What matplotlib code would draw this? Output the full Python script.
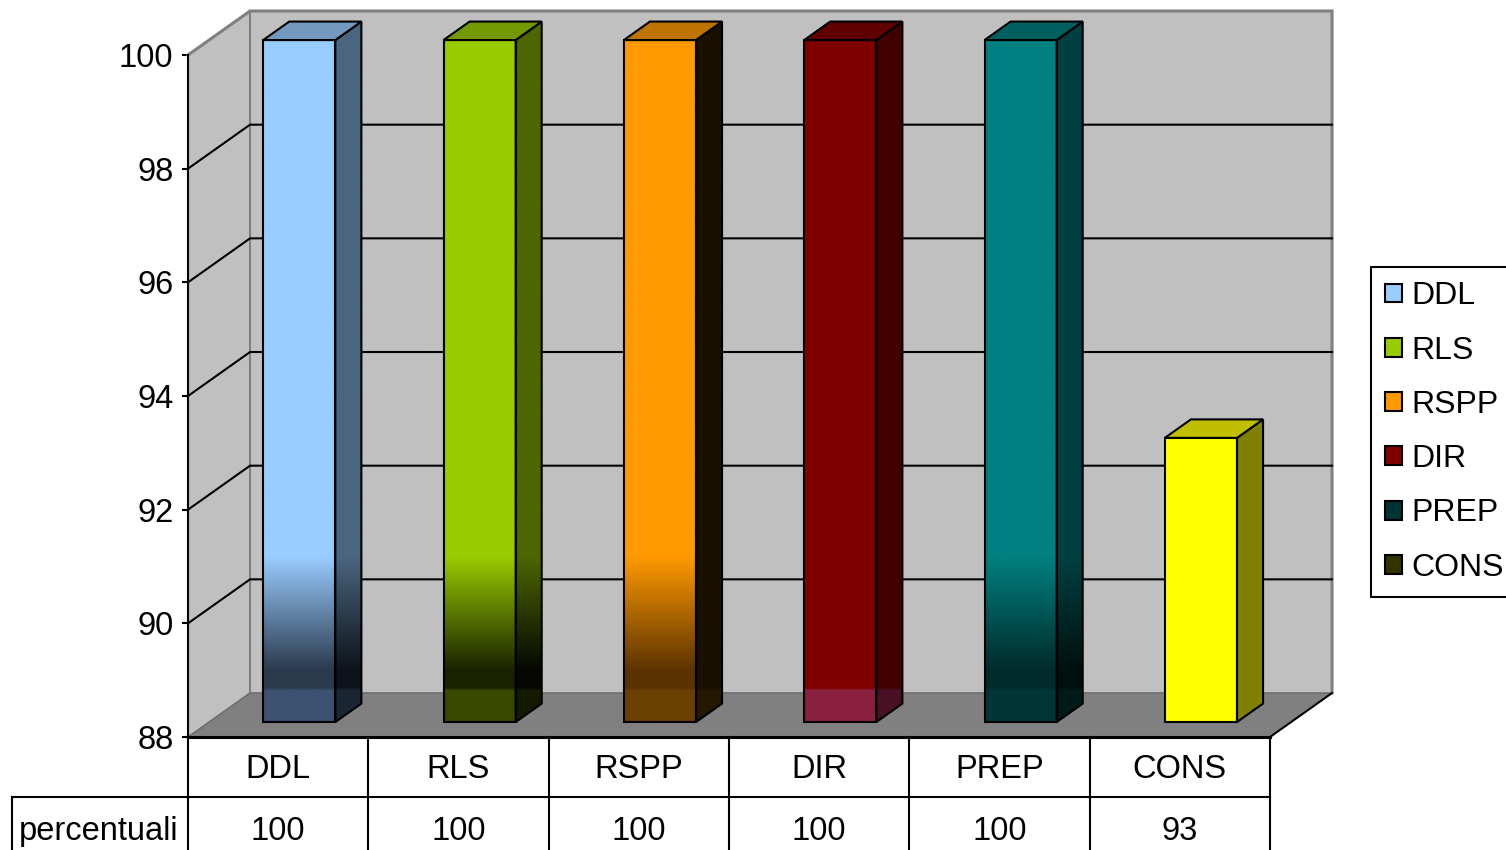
import matplotlib
matplotlib.use('Agg')
import matplotlib.pyplot as plt
import numpy as np
from matplotlib.patches import Polygon, Patch
from matplotlib.colors import to_rgb

plt.rcParams['font.family'] = ['Liberation Sans', 'DejaVu Sans']

# Data
categories = ['DDL', 'RLS', 'RSPP', 'DIR', 'PREP', 'CONS']
percentuali = [100, 100, 100, 100, 100, 93]
row_label = 'percentuali'
yticks = [88, 90, 92, 94, 96, 98, 100]

# Bar face colours: (top of gradient, dark band, strip over the floor)
front_colors = [('#99CCFF', '#2B3A4D', '#3D5270'),
                ('#99CC00', '#1A2200', '#394A00'),
                ('#FF9900', '#5C3300', '#6B4000'),
                ('#800000', '#800000', '#8A2040'),
                ('#008080', '#002B2B', '#003636'),
                ('#FFFF00', '#FFFF00', '#FFFF00')]
side_colors = [('#4A6680', '#0D131A', '#1A2633'),
               ('#4D6600', '#050800', '#141A00'),
               ('#1A1000', '#1A1000', '#241800'),
               ('#400000', '#400000', '#4A1025'),
               ('#004040', '#001010', '#001A1A'),
               ('#808000', '#808000', '#808000')]
top_colors = ['#7399BF', '#739900', '#BF7300', '#600000', '#006060', '#BFBF00']
legend_colors = ['#99CCFF', '#99CC00', '#FF9900', '#800000', '#003333', '#333300']

# 3D box geometry (data units): full depth offset of the walls
DX, DY = 0.344, 0.774
D0, D1 = 0.34, 0.76       # bar front / back as fraction of depth
BAR_W = 0.4
Y0, Y1 = 88, 100
WALL = '#C0C0C0'
FLOOR = '#808080'
EDGE = '#808080'
FS = 23.5

fig = plt.figure(figsize=(15.06, 8.5), dpi=100)
ax = fig.add_axes([188 / 1506, 113 / 850, 1082 / 1506, 682 / 850])
n = len(categories)
x0, x1 = -0.5, n - 0.5

# walls and floor
ax.add_patch(Polygon([(x0 + DX, Y0 + DY), (x1 + DX, Y0 + DY), (x1 + DX, Y1 + DY), (x0 + DX, Y1 + DY)],
                     facecolor=WALL, edgecolor='none', zorder=1, clip_on=False))
ax.add_patch(Polygon([(x0, Y0), (x0 + DX, Y0 + DY), (x0 + DX, Y1 + DY), (x0, Y1)],
                     facecolor=WALL, edgecolor='none', zorder=1, clip_on=False))
ax.add_patch(Polygon([(x0, Y0), (x1, Y0), (x1 + DX, Y0 + DY), (x0 + DX, Y0 + DY)],
                     facecolor=FLOOR, edgecolor='none', zorder=1, clip_on=False))

# wall outlines
ax.plot([x0, x0 + DX, x1 + DX, x1 + DX], [Y1, Y1 + DY, Y1 + DY, Y0 + DY],
        color=EDGE, lw=2.2, clip_on=False, zorder=2, solid_joinstyle='miter')
ax.plot([x0 + DX, x0 + DX], [Y0 + DY, Y1 + DY], color=EDGE, lw=1.5, clip_on=False, zorder=2)
ax.plot([x0, x0 + DX, x1 + DX], [Y0, Y0 + DY, Y0 + DY], color='#6E6E6E', lw=1.2, clip_on=False, zorder=2)
ax.plot([x1, x1 + DX], [Y0, Y0 + DY], color='black', lw=1.5, clip_on=False, zorder=6)

# gridlines on side and back walls
for v in yticks[1:-1]:
    ax.plot([x0, x0 + DX, x1 + DX], [v, v + DY, v + DY], color='black', lw=1.5,
            clip_on=False, zorder=2)


def gradient_face(verts, stops, lift, z):
    verts = np.asarray(verts)
    poly = Polygon(verts, closed=True, facecolor='none', edgecolor='none', zorder=z, clip_on=False)
    ax.add_patch(poly)
    ymin, ymax = verts[:, 1].min(), verts[:, 1].max()
    ys = np.linspace(ymin, ymax, 400)
    local = ys - lift
    sv = [s[0] for s in stops]
    cols = np.array([to_rgb(s[1]) for s in stops])
    img = np.stack([np.interp(local, sv, cols[:, k]) for k in range(3)], axis=-1)[:, None, :]
    im = ax.imshow(img, extent=(verts[:, 0].min(), verts[:, 0].max(), ymin, ymax),
                   origin='lower', aspect='auto', zorder=z, interpolation='bilinear')
    im.set_clip_box(fig.bbox)
    im.set_clip_path(poly)
    ax.add_patch(Polygon(verts, closed=True, facecolor='none', edgecolor='black', lw=1.5,
                         zorder=z + 0.1, joinstyle='miter', clip_on=False))


def stops_for(c):
    top, dark, base = c
    return [(Y0, base), (88.55, base), (88.58, dark), (88.9, dark), (90.9, top), (Y1 + 1, top)]


# bars
bdx, bdy = (D1 - D0) * DX, (D1 - D0) * DY
for i, val in enumerate(percentuali):
    xl = i - BAR_W / 2 + D0 * DX
    xr = xl + BAR_W
    lift = D0 * DY
    bot, top = Y0 + lift, val + lift
    z = 3 + i * 0.5
    gradient_face([(xl, bot), (xr, bot), (xr, top), (xl, top)], stops_for(front_colors[i]), lift, z)
    gradient_face([(xr, bot), (xr + bdx, bot + bdy), (xr + bdx, top + bdy), (xr, top)],
                  stops_for(side_colors[i]), lift, z)
    ax.add_patch(Polygon([(xl, top), (xr, top), (xr + bdx, top + bdy), (xl + bdx, top + bdy)],
                         facecolor=top_colors[i], edgecolor='black', lw=1.5, zorder=z + 0.2,
                         joinstyle='miter', clip_on=False))

ax.set_xlim(x0, x1)
ax.set_ylim(Y0, Y1)
ax.set_xticks([])
ax.set_yticks(yticks)
ax.tick_params(axis='y', length=4.5, width=1.5, pad=6, labelsize=FS, direction='out')
for s in ['top', 'right', 'bottom']:
    ax.spines[s].set_visible(False)
ax.spines['left'].set_linewidth(1.5)
ax.spines['left'].set_zorder(7)

# data table under the chart
tr = ax.get_xaxis_transform()
row1, row_end = -0.088, -0.2
label_x = -0.1627
ax.plot([x0, x1], [0, 0], transform=tr, color='black', lw=2.2, clip_on=False, zorder=7)
ax.plot([label_x, 1], [row1, row1], transform=ax.transAxes, color='black', lw=1.5, clip_on=False)
for b in np.arange(n + 1) - 0.5:
    ax.plot([b, b], [0, row_end], transform=tr, color='black', lw=1.5, clip_on=False)
ax.plot([label_x, label_x], [row1, row_end], transform=ax.transAxes, color='black', lw=1.5, clip_on=False)
for i, (cat, val) in enumerate(zip(categories, percentuali)):
    ax.text(i, -0.047, cat, transform=tr, ha='center', va='center', fontsize=FS)
    ax.text(i, -0.139, str(val), transform=tr, ha='center', va='center', fontsize=FS)
ax.text(label_x + 0.006, -0.139, row_label, transform=ax.transAxes, ha='left', va='center', fontsize=FS)

# legend
handles = [Patch(facecolor=c, edgecolor='black', lw=1.5) for c in legend_colors]
leg = ax.legend(handles, categories, loc='upper left', bbox_to_anchor=(1371 / 1506, 1 - 267 / 850),
                bbox_transform=fig.transFigure, borderaxespad=0, fontsize=23,
                handlelength=0.53, handleheight=0.53, handletextpad=0.28, labelspacing=0.76,
                borderpad=0.45, fancybox=False, framealpha=1, edgecolor='black')
leg.get_frame().set_linewidth(1.5)

fig.savefig('out.png', dpi=100, facecolor='white')
